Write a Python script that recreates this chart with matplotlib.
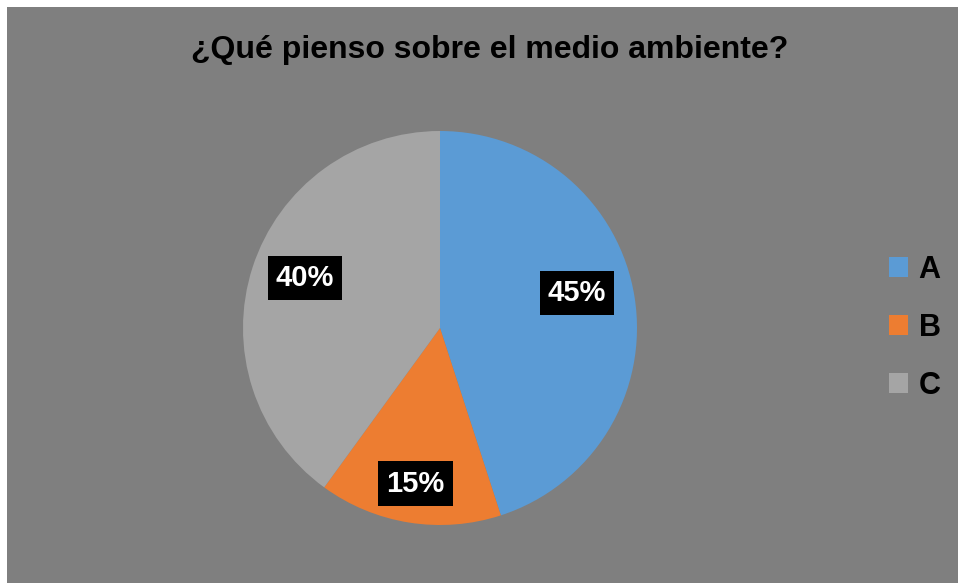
import matplotlib
matplotlib.use("Agg")
import numpy as np
import matplotlib.pyplot as plt
from matplotlib.patches import Rectangle, Patch

plt.rcParams['font.family'] = ['Liberation Sans', 'DejaVu Sans']

title = "¿Qué pienso sobre el medio ambiente?"
categories = ["A", "B", "C"]
values = [45, 15, 40]
colors = ["#5B9BD5", "#ED7D31", "#A5A5A5"]
# label placement: radial distance and angular shift (deg) from wedge middle
label_dist = [0.718, 0.80, 0.731]
label_shift = [5.3, 0.0, -2.3]

W, H = 958, 583
fig = plt.figure(figsize=(W / 100, H / 100), dpi=100)
fig.patch.set_facecolor("white")
fig.patches.append(Rectangle((7 / W, 0), 1 - 7 / W, 1 - 7 / H, transform=fig.transFigure,
                             facecolor="#7F7F7F", edgecolor="none", zorder=-5))

cx, cy, r = 440, 328, 197
ax = fig.add_axes([(cx - r) / W, 1 - (cy + r) / H, 2 * r / W, 2 * r / H])
ax.set_facecolor("none")
wedges, _ = ax.pie(values, colors=colors, startangle=90, counterclock=False,
                   radius=1, wedgeprops=dict(linewidth=0))
ax.set_xlim(-1, 1)
ax.set_ylim(-1, 1)
ax.set_aspect("equal")
ax.axis("off")

total = sum(values)
for w, v, d, s in zip(wedges, values, label_dist, label_shift):
    ang = np.deg2rad((w.theta1 + w.theta2) / 2 + s)
    ax.text(d * np.cos(ang), d * np.sin(ang), f"{round(100 * v / total)}%",
            ha="center", va="center", color="white", fontsize=21, fontweight="bold",
            bbox=dict(boxstyle="square,pad=0.28", facecolor="black", edgecolor="none"))

fig.text(490 / W, 1 - 50 / H, title, ha="center", va="center",
         fontsize=23, fontweight="bold", color="black")

handles = [Patch(facecolor=c, edgecolor="none") for c in colors]
leg = fig.legend(handles, categories, loc="center left", bbox_to_anchor=(889 / W, 1 - 328 / H),
                 frameon=False, fontsize=22, handlelength=0.62, handleheight=0.62,
                 handletextpad=0.35, labelspacing=0.92, borderpad=0, borderaxespad=0)
for t in leg.get_texts():
    t.set_fontweight("bold")

fig.savefig("out.png", dpi=100, facecolor=fig.get_facecolor())
